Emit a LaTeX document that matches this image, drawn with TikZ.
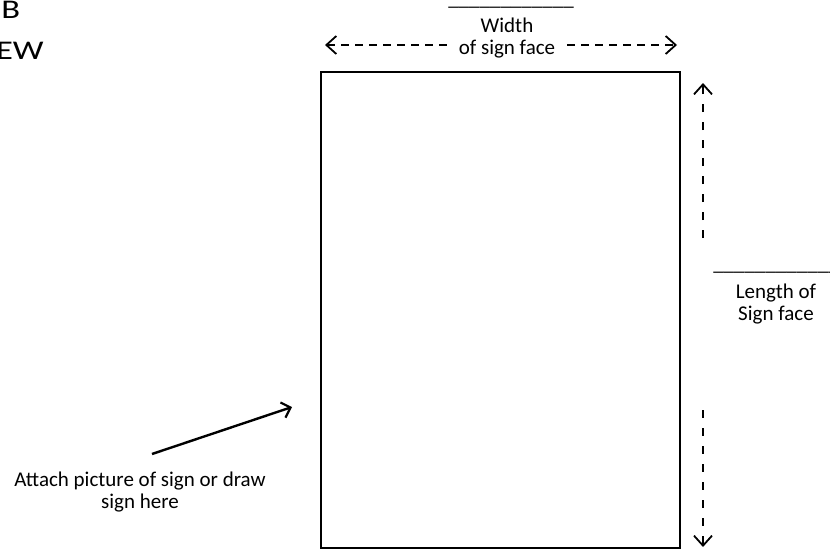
\documentclass[tikz,border=0pt]{standalone}
\usepackage{fontspec}
\setmainfont{Carlito}
\usetikzlibrary{arrows.meta}
\begin{document}
\begin{tikzpicture}[
  x=1pt, y=-1pt,
  sign/.style={draw, line width=2.6pt, minimum width=359pt, minimum height=476pt, inner sep=0pt},
  lbl/.style={align=center, inner sep=0pt, font=\fontsize{21}{22.5}\selectfont},
  head/.style={inner sep=0pt, font=\fontsize{27}{30}\selectfont, xscale=1.28, transform shape},
  dimarr/.style={-{Straight Barb[length=10pt, width=18pt, line width=1.8pt]}, line width=1.8pt, dash pattern=on 8pt off 6pt},
  arr/.style={-{Straight Barb[length=8pt, width=16pt, line width=2.2pt]}, line width=2.4pt}
]
\useasboundingbox (0,0) rectangle (830,552);
% heading, cut off at the page edge
\node[head, anchor=base west] (hb) at (1,18) {B};
\node[head, anchor=base east] (hew) at (44,59) {EW};
% the sign face
\node[sign] (sign) at (500.5,310) {};
% width
\node[lbl, anchor=base] (wblank) at (511,5) {\_\_\_\_\_\_\_\_\_\_\_\_};
\node[lbl, inner xsep=12pt] (wlabel) at (507,38) {Width\\of sign face};
\coordinate (wl) at (325,45);
\coordinate (wr) at (677,45);
\draw[dimarr] (wlabel.west |- wl) -- (wl);
\draw[dimarr] (wlabel.east |- wr) -- (wr);
% length
\node[lbl, anchor=base] (lblank) at (776,270) {\_\_\_\_\_\_\_\_\_\_\_\_};
\node[lbl] (llabel) at (776,304) {Length of\\Sign face};
\coordinate (lupfrom) at (703,238);
\coordinate (lup) at (703,83);
\coordinate (ldownfrom) at (703,410);
\coordinate (ldown) at (703,547);
\draw[dimarr, dash pattern=on 8pt off 10pt] (lupfrom) -- (lup);
\draw[dimarr, dash pattern=on 8pt off 10pt] (ldownfrom) -- (ldown);
% picture note
\node[lbl] (note) at (140,492) {Attach picture of sign or draw\\sign here};
\coordinate (pfrom) at (152,454);
\coordinate (pto) at (292,407);
\draw[arr] (pfrom) -- (pto);
\end{tikzpicture}
\end{document}
